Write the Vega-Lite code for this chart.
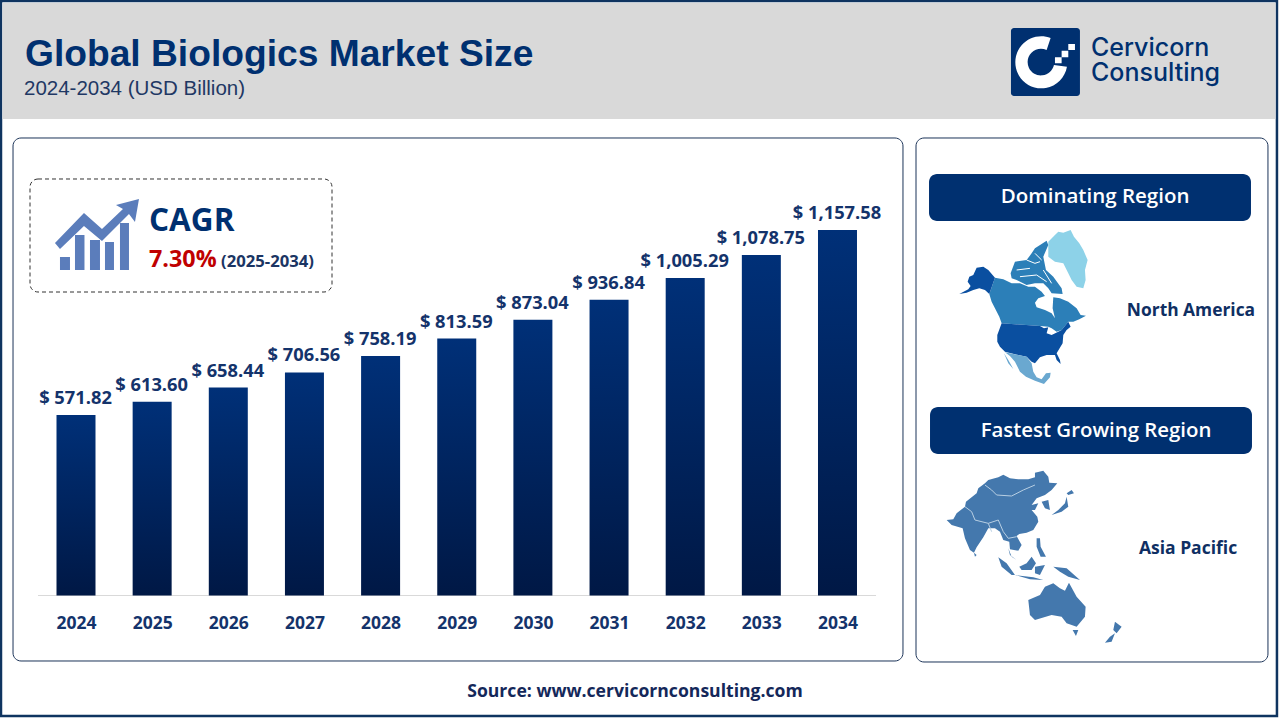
{
"$schema":"https://vega.github.io/schema/vega-lite/v6.json",
"width":1280,"height":720,"padding":0,
"autosize":{"type":"none"},
"background":"#ffffff",
"config":{"view":{"stroke":null},"axisX":{"domain":false,"ticks":false,"grid":false,"labelPadding":19,"labelFont":"Open Sans","labelFontWeight":700,"labelFontSize":17.5,"labelColor":"#14336b","labelOverlap":false,"offset":-124.5}},
"layer":[
{"data":{"values":[{"part":"frame"}]},"mark":{"type":"rect","fill":"#ffffff","stroke":"#0f3460","strokeWidth":2.5},
 "encoding":{"x":{"datum":2023.015,"type":"quantitative","scale":{"domain":[2023.002,2039.811],"nice":false,"zero":false,"padding":0}},"x2":{"datum":2039.771},"y":{"datum":1882.83,"type":"quantitative","axis":null,"scale":{"domain":[-394.3,1886],"nice":false,"zero":false}},"y2":{"datum":-381.6}}},
{"data":{"values":[{"part":"header"}]},"mark":{"type":"rect","fill":"#d9d9d9"},
 "encoding":{"x":{"datum":2023.035,"type":"quantitative"},"x2":{"datum":2039.75},"y":{"datum":1876.5,"type":"quantitative","axis":null},"y2":{"datum":1509.1}}},
{"data":{"values":[{"part":"chart panel"}]},"mark":{"type":"rect","fill":"#ffffff","stroke":"#1b3358","strokeWidth":1,"cornerRadius":8},
 "encoding":{"x":{"datum":2023.173,"type":"quantitative"},"x2":{"datum":2034.86},"y":{"datum":1448.95,"type":"quantitative","axis":null},"y2":{"datum":-207.4}}},
{"data":{"values":[{"part":"side panel"}]},"mark":{"type":"rect","fill":"#ffffff","stroke":"#1b3358","strokeWidth":1,"cornerRadius":8},
 "encoding":{"x":{"datum":2035.031,"type":"quantitative"},"x2":{"datum":2039.653},"y":{"datum":1448.95,"type":"quantitative","axis":null},"y2":{"datum":-210.6}}},
{"data":{"values":[{"part":"cagr box"}]},"mark":{"type":"rect","fill":"#ffffff","stroke":"#333333","strokeWidth":1,"strokeDash":[4,3],"cornerRadius":8},
 "encoding":{"x":{"datum":2023.396,"type":"quantitative"},"x2":{"datum":2027.362},"y":{"datum":1319.1,"type":"quantitative","axis":null},"y2":{"datum":961.2}}},
{"data":{"values":[{"part":"pill 1"}]},"mark":{"type":"rect","fill":"#003070","cornerRadius":8},
 "encoding":{"x":{"datum":2035.202,"type":"quantitative"},"x2":{"datum":2039.43},"y":{"datum":1334.9,"type":"quantitative","axis":null},"y2":{"datum":1186.1}}},
{"data":{"values":[{"part":"pill 2"}]},"mark":{"type":"rect","fill":"#003070","cornerRadius":8},
 "encoding":{"x":{"datum":2035.215,"type":"quantitative"},"x2":{"datum":2039.443},"y":{"datum":597,"type":"quantitative","axis":null},"y2":{"datum":448.2}}},
{"data":{"values":[{"part":"baseline"}]},"mark":{"type":"rule","stroke":"#d9d9d9","strokeWidth":1.2},
 "encoding":{"x":{"datum":2023.501,"type":"quantitative"},"x2":{"datum":2034.506},"y":{"datum":0,"type":"quantitative","axis":null}}},
{"data":{"values":[{"label":"Global Biologics Market Size"}]},"mark":{"type":"text","font":"Liberation Sans","fontWeight":"bold","fontSize":37.2,"color":"#003070","align":"left","baseline":"alphabetic"},
 "encoding":{"x":{"datum":2023.33,"type":"quantitative"},"y":{"datum":1678.5,"type":"quantitative","axis":null},"text":{"field":"label"}}},
{"data":{"values":[{"label":"2024-2034 (USD Billion)"}]},"mark":{"type":"text","font":"Liberation Sans","fontSize":20.5,"color":"#1f3864","align":"left","baseline":"alphabetic"},
 "encoding":{"x":{"datum":2023.317,"type":"quantitative"},"y":{"datum":1585.1,"type":"quantitative","axis":null},"text":{"field":"label"}}},
{"data":{"values":[{"label":"CAGR"}]},"mark":{"type":"text","font":"Open Sans","fontWeight":700,"fontSize":31.5,"color":"#003070","align":"left","baseline":"alphabetic"},
 "encoding":{"x":{"datum":2024.959,"type":"quantitative"},"y":{"datum":1154.4,"type":"quantitative","axis":null},"text":{"field":"label"}}},
{"data":{"values":[{"label":"7.30%"}]},"mark":{"type":"text","font":"Open Sans","fontWeight":700,"fontSize":23.3,"color":"#c00000","align":"left","baseline":"alphabetic"},
 "encoding":{"x":{"datum":2024.959,"type":"quantitative"},"y":{"datum":1040.4,"type":"quantitative","axis":null},"text":{"field":"label"}}},
{"data":{"values":[{"label":"(2025-2034)"}]},"mark":{"type":"text","font":"Open Sans","fontWeight":700,"fontSize":16.7,"color":"#1b3563","align":"left","baseline":"alphabetic"},
 "encoding":{"x":{"datum":2025.904,"type":"quantitative"},"y":{"datum":1040.4,"type":"quantitative","axis":null},"text":{"field":"label"}}},
{"data":{"values":[{"part":"cagr icon"}]},"mark":{"type":"point","filled":true,"size":4,"opacity":1,"fill":"#5b7dbb","strokeWidth":0,"shape":"M0,45 L29,15 47,31 68,11 61,7 84,1 80,24 74,16 47,43 29,28 5,51 Z M5,59 H15 V72 H5 Z M20,37 H29.5 V72 H20 Z M35,42 H45 V72 H35 Z M50,44 H59 V72 H50 Z M65,25 H74 V72 H65 Z"},
 "encoding":{"x":{"datum":2023.724,"type":"quantitative"},"y":{"datum":1258.9,"type":"quantitative","axis":null}}},
{"data":{"values":[{"label":"Dominating Region"}]},"mark":{"type":"text","font":"Open Sans","fontWeight":600,"fontSize":20.5,"color":"#ffffff","align":"center","baseline":"middle"},
 "encoding":{"x":{"datum":2037.382,"type":"quantitative"},"y":{"datum":1262.1,"type":"quantitative","axis":null},"text":{"field":"label"}}},
{"data":{"values":[{"label":"Fastest Growing Region"}]},"mark":{"type":"text","font":"Open Sans","fontWeight":600,"fontSize":20.4,"color":"#ffffff","align":"center","baseline":"middle"},
 "encoding":{"x":{"datum":2037.395,"type":"quantitative"},"y":{"datum":521,"type":"quantitative","axis":null},"text":{"field":"label"}}},
{"data":{"values":[{"label":"North America"}]},"mark":{"type":"text","font":"Open Sans","fontWeight":700,"fontSize":17.4,"color":"#0f2f63","align":"center","baseline":"middle"},
 "encoding":{"x":{"datum":2038.642,"type":"quantitative"},"y":{"datum":901,"type":"quantitative","axis":null},"text":{"field":"label"}}},
{"data":{"values":[{"label":"Asia Pacific"}]},"mark":{"type":"text","font":"Open Sans","fontWeight":700,"fontSize":17.5,"color":"#0f2f63","align":"center","baseline":"middle"},
 "encoding":{"x":{"datum":2038.603,"type":"quantitative"},"y":{"datum":147.3,"type":"quantitative","axis":null},"text":{"field":"label"}}},
{"data":{"values":[{"label":"Source: www.cervicornconsulting.com"}]},"mark":{"type":"text","font":"Open Sans","fontWeight":700,"fontSize":17.6,"color":"#14285a","align":"center","baseline":"middle"},
 "encoding":{"x":{"datum":2031.341,"type":"quantitative"},"y":{"datum":-305.6,"type":"quantitative","axis":null},"text":{"field":"label"}}},
{"data":{"values":[{"part":"logo square"}]},"mark":{"type":"rect","fill":"#003070","cornerRadius":3},
 "encoding":{"x":{"datum":2036.278,"type":"quantitative"},"x2":{"datum":2037.184},"y":{"datum":1797.3,"type":"quantitative","axis":null},"y2":{"datum":1582}}},
{"data":{"values":[{"part":"logo glyph"}]},"mark":{"type":"point","filled":true,"size":0.4444,"opacity":1,"fill":"#ffffff","strokeWidth":0,"shape":"M392,114 A78,78 0 1 0 441,200 L402,195 A40,40 0 1 1 380,150 Z M445,132 H465 V150 H445 Z M425,152 H445 V172 H425 Z M405,172 H425 V190 H405 Z"},
 "encoding":{"x":{"datum":2035.083,"type":"quantitative"},"y":{"datum":1886,"type":"quantitative","axis":null}}},
{"data":{"values":[{"label":"Cervicorn"}]},"mark":{"type":"text","font":"Inter","fontWeight":500,"fontSize":25,"color":"#003070","align":"left","baseline":"alphabetic"},
 "encoding":{"x":{"datum":2037.329,"type":"quantitative"},"y":{"datum":1708.6,"type":"quantitative","axis":null},"text":{"field":"label"}}},
{"data":{"values":[{"label":"Consulting"}]},"mark":{"type":"text","font":"Inter","fontWeight":500,"fontSize":25,"color":"#003070","align":"left","baseline":"alphabetic"},
 "encoding":{"x":{"datum":2037.329,"type":"quantitative"},"y":{"datum":1629.5,"type":"quantitative","axis":null},"text":{"field":"label"}}},
{"data":{"values":[{"part":"Greenland"}]},"mark":{"type":"point","filled":true,"size":0.4444,"opacity":1,"fill":"#8dd2e8","strokeWidth":0,"shape":"M385,65 L405,45 415,35 430,38 452,30 462,50 478,70 490,90 503,120 495,150 497,180 490,205 470,200 455,180 445,160 430,130 405,125 385,110 Z"},
 "encoding":{"x":{"datum":2035.083,"type":"quantitative"},"y":{"datum":1189.2,"type":"quantitative","axis":null}}},
{"data":{"values":[{"part":"Canada"}]},"mark":{"type":"point","filled":true,"size":0.4444,"opacity":1,"fill":"#2c7fb8","strokeWidth":0,"shape":"M272,160 L285,125 320,120 335,100 345,85 380,62 385,75 370,110 378,150 400,170 425,205 428,222 395,220 385,205 370,190 345,190 320,195 290,180 275,175 Z M225,173 L250,178 275,190 300,190 325,200 345,200 365,215 375,228 355,235 345,248 350,262 375,270 395,280 405,295 398,265 400,232 420,235 445,245 470,265 482,285 498,287 478,298 460,305 445,305 425,330 410,335 395,325 385,320 360,318 245,310 238,290 225,265 215,245 208,222 Z"},
 "encoding":{"x":{"datum":2035.083,"type":"quantitative"},"y":{"datum":1189.2,"type":"quantitative","axis":null}}},
{"data":{"values":[{"part":"Arctic channels"}]},"mark":{"type":"point","filled":false,"size":0.4444,"opacity":1,"stroke":"#ffffff","strokeWidth":1,"shape":"M290,150 L330,145 M320,120 L345,130 360,125 M345,100 L365,120 M300,170 L350,165 380,185 M370,150 L395,190"},
 "encoding":{"x":{"datum":2035.083,"type":"quantitative"},"y":{"datum":1189.2,"type":"quantitative","axis":null}}},
{"data":{"values":[{"part":"United States"}]},"mark":{"type":"point","filled":true,"size":0.4444,"opacity":1,"fill":"#0a4fa0","strokeWidth":0,"shape":"M170,143 L190,140 205,150 225,173 208,222 195,210 178,205 160,210 140,218 118,222 145,208 152,198 143,185 148,170 160,165 Z M245,310 L360,318 372,325 385,322 380,340 395,345 415,335 425,330 445,305 452,320 440,330 430,345 428,370 410,400 420,420 422,432 410,420 405,405 380,405 360,412 345,430 335,425 320,410 295,405 255,395 240,380 232,365 232,345 Z"},
 "encoding":{"x":{"datum":2035.083,"type":"quantitative"},"y":{"datum":1189.2,"type":"quantitative","axis":null}}},
{"data":{"values":[{"part":"Mexico"}]},"mark":{"type":"point","filled":true,"size":0.4444,"opacity":1,"fill":"#6aa8d0","strokeWidth":0,"shape":"M255,397 L295,405 320,410 335,430 340,455 350,472 365,478 378,460 392,458 390,472 372,492 345,482 318,470 300,455 285,425 270,408 Z M252,400 L265,420 280,447 265,430 Z"},
 "encoding":{"x":{"datum":2035.083,"type":"quantitative"},"y":{"datum":1189.2,"type":"quantitative","axis":null}}},
{"data":{"values":[{"part":"Asia Pacific map"}]},"mark":{"type":"point","filled":true,"size":0.4444,"opacity":1,"fill":"#4478ad","strokeWidth":0,"shape":"M80,180 L100,178 110,160 135,140 138,125 170,100 175,85 195,70 205,60 235,52 250,44 270,55 295,58 325,58 345,52 345,38 370,32 385,50 388,68 412,70 395,90 375,105 350,115 335,135 355,130 345,150 335,150 352,170 355,185 340,210 320,218 298,222 290,228 305,255 295,272 270,268 268,245 250,240 240,215 225,205 205,205 190,232 170,262 162,278 150,270 135,235 128,205 95,195 Z M365,125 L385,120 390,150 375,145 Z M395,165 L415,150 435,130 440,110 445,140 425,155 Z M440,100 L455,90 462,100 445,105 Z M350,235 L360,235 362,260 378,290 362,290 350,260 Z M235,292 L260,310 285,345 275,345 245,320 Z M285,345 L340,352 370,360 330,358 Z M298,320 L320,310 335,290 348,310 335,330 305,330 Z M345,320 L375,315 360,345 345,340 Z M265,265 L275,290 290,300 270,285 Z M400,320 L440,325 480,360 445,350 420,335 Z M325,420 L360,405 375,380 400,370 420,385 435,392 447,368 470,410 497,440 495,470 470,500 440,490 425,470 395,465 345,480 330,465 Z M458,510 L475,510 468,528 Z M585,485 L605,500 590,520 580,510 Z M585,520 L575,545 555,548 570,530 Z M162,278 L170,285 165,290 Z"},
 "encoding":{"x":{"datum":2035.083,"type":"quantitative"},"y":{"datum":429.1,"type":"quantitative","axis":null}}},
{"data":{"values":[{"part":"Asia borders"}]},"mark":{"type":"point","filled":false,"size":0.4444,"opacity":1,"stroke":"#b8cfe3","strokeWidth":1,"shape":"M195,75 L215,90 230,105 275,108 310,90 345,75 M135,140 L155,155 165,180 205,190 235,180 250,215 265,235 290,230 M205,190 L215,215"},
 "encoding":{"x":{"datum":2035.083,"type":"quantitative"},"y":{"datum":429.1,"type":"quantitative","axis":null}}},
{"data":{"values":[
 {"year":2024,"value":571.82,"label":"$ 571.82"},{"year":2025,"value":613.60,"label":"$ 613.60"},{"year":2026,"value":658.44,"label":"$ 658.44"},{"year":2027,"value":706.56,"label":"$ 706.56"},{"year":2028,"value":758.19,"label":"$ 758.19"},{"year":2029,"value":813.59,"label":"$ 813.59"},{"year":2030,"value":873.04,"label":"$ 873.04"},{"year":2031,"value":936.84,"label":"$ 936.84"},{"year":2032,"value":1005.29,"label":"$ 1,005.29"},{"year":2033,"value":1078.75,"label":"$ 1,078.75"},{"year":2034,"value":1157.58,"label":"$ 1,157.58"}]},
 "layer":[
 {"mark":{"type":"text","font":"Open Sans","fontWeight":700,"fontSize":18.3,"color":"#14336b","baseline":"alphabetic","align":"center","dy":-11,"dx":-0.5},
  "encoding":{"x":{"field":"year","type":"quantitative"},"y":{"field":"value","type":"quantitative","axis":null},"text":{"field":"label"}}},
 {"mark":{"type":"bar","width":39,"color":{"gradient":"linear","x1":0,"y1":0,"x2":0,"y2":1,"stops":[{"offset":0,"color":"#003078"},{"offset":1,"color":"#001845"}]}},
  "encoding":{"x":{"field":"year","type":"quantitative","axis":{"title":null,"values":[2024,2025,2026,2027,2028,2029,2030,2031,2032,2033,2034],"format":"d","zindex":1}},"y":{"field":"value","type":"quantitative","stack":null,"axis":null}}}
 ]}
]
}
